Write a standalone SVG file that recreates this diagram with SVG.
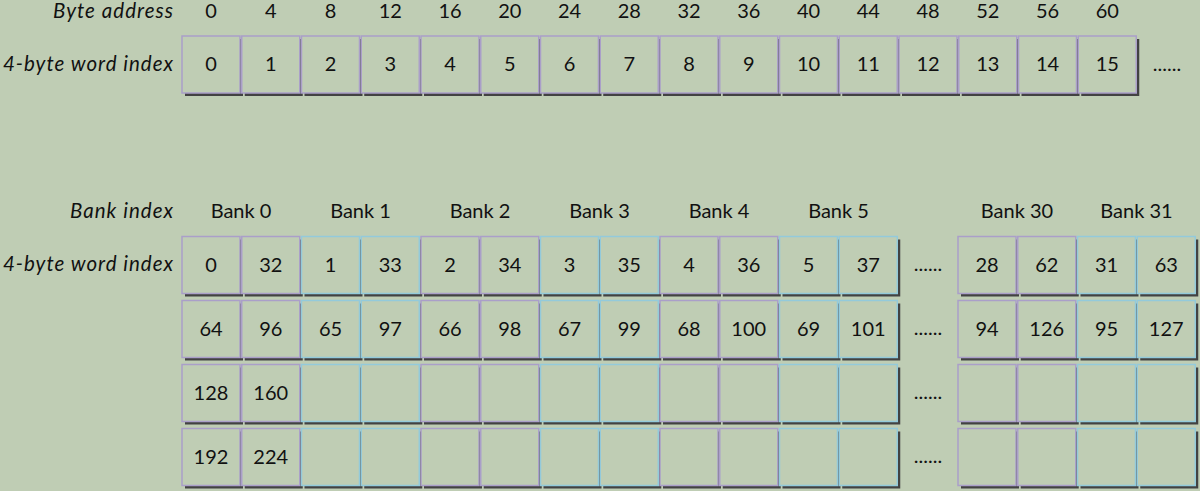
<svg xmlns="http://www.w3.org/2000/svg" width="1200" height="491" viewBox="0 0 1200 491">
<style>
.sh{fill:#424242}
.p{fill:#BFCDB4;stroke:#AA9FC9;stroke-width:1.5}
.b{fill:#BFCDB4;stroke:#93CADB;stroke-width:1.5}
.n{font-family:Lato,"Open Sans",sans-serif;font-size:20px;fill:#111;text-anchor:middle}
.l{font-family:Lato,"Open Sans",sans-serif;font-size:20.5px;font-style:italic;fill:#111;text-anchor:end}
.h{font-family:Lato,"Open Sans",sans-serif;font-size:20px;fill:#111;text-anchor:middle}
</style>
<rect width="1200" height="491" fill="#BFCDB4"/>
<g id="labels">
<text class="l" x="173" y="18" textLength="120" lengthAdjust="spacing">Byte address</text>
<text class="l" x="173" y="71" textLength="170" lengthAdjust="spacing">4-byte word index</text>
<text class="l" x="173" y="218" textLength="103" lengthAdjust="spacing">Bank index</text>
<text class="l" x="173" y="271" textLength="170" lengthAdjust="spacing">4-byte word index</text>
</g>
<g id="byte-addresses">
<text class="h" x="211" y="18">0</text><text class="h" x="270.75" y="18">4</text><text class="h" x="330.5" y="18">8</text><text class="h" x="390.25" y="18">12</text><text class="h" x="450" y="18">16</text><text class="h" x="509.75" y="18">20</text><text class="h" x="569.5" y="18">24</text><text class="h" x="629.25" y="18">28</text><text class="h" x="689" y="18">32</text><text class="h" x="748.75" y="18">36</text><text class="h" x="808.5" y="18">40</text><text class="h" x="868.25" y="18">44</text><text class="h" x="928" y="18">48</text><text class="h" x="987.75" y="18">52</text><text class="h" x="1047.5" y="18">56</text><text class="h" x="1107.25" y="18">60</text>
</g>
<g id="bank-labels">
<text class="h" x="241" y="218">Bank 0</text><text class="h" x="360.5" y="218">Bank 1</text><text class="h" x="480" y="218">Bank 2</text><text class="h" x="599.5" y="218">Bank 3</text><text class="h" x="719" y="218">Bank 4</text><text class="h" x="838.5" y="218">Bank 5</text><text class="h" x="1017" y="218">Bank 30</text><text class="h" x="1136.5" y="218">Bank 31</text>
</g>
<g id="ellipses">
<text class="h" x="1167" y="71">......</text>
<text class="h" x="928" y="271">......</text>
<text class="h" x="928" y="335">......</text>
<text class="h" x="928" y="399">......</text>
<text class="h" x="928" y="463">......</text>
</g>
<g id="linear-words">
<g id="w0" transform="translate(182,36)"><rect class="sh" x="3" y="3" width="58" height="57"/><rect class="p" width="58" height="57"/><text class="n" x="29" y="35">0</text></g>
<g id="w1" transform="translate(241.75,36)"><rect class="sh" x="3" y="3" width="58" height="57"/><rect class="p" width="58" height="57"/><text class="n" x="29" y="35">1</text></g>
<g id="w2" transform="translate(301.5,36)"><rect class="sh" x="3" y="3" width="58" height="57"/><rect class="p" width="58" height="57"/><text class="n" x="29" y="35">2</text></g>
<g id="w3" transform="translate(361.25,36)"><rect class="sh" x="3" y="3" width="58" height="57"/><rect class="p" width="58" height="57"/><text class="n" x="29" y="35">3</text></g>
<g id="w4" transform="translate(421,36)"><rect class="sh" x="3" y="3" width="58" height="57"/><rect class="p" width="58" height="57"/><text class="n" x="29" y="35">4</text></g>
<g id="w5" transform="translate(480.75,36)"><rect class="sh" x="3" y="3" width="58" height="57"/><rect class="p" width="58" height="57"/><text class="n" x="29" y="35">5</text></g>
<g id="w6" transform="translate(540.5,36)"><rect class="sh" x="3" y="3" width="58" height="57"/><rect class="p" width="58" height="57"/><text class="n" x="29" y="35">6</text></g>
<g id="w7" transform="translate(600.25,36)"><rect class="sh" x="3" y="3" width="58" height="57"/><rect class="p" width="58" height="57"/><text class="n" x="29" y="35">7</text></g>
<g id="w8" transform="translate(660,36)"><rect class="sh" x="3" y="3" width="58" height="57"/><rect class="p" width="58" height="57"/><text class="n" x="29" y="35">8</text></g>
<g id="w9" transform="translate(719.75,36)"><rect class="sh" x="3" y="3" width="58" height="57"/><rect class="p" width="58" height="57"/><text class="n" x="29" y="35">9</text></g>
<g id="w10" transform="translate(779.5,36)"><rect class="sh" x="3" y="3" width="58" height="57"/><rect class="p" width="58" height="57"/><text class="n" x="29" y="35">10</text></g>
<g id="w11" transform="translate(839.25,36)"><rect class="sh" x="3" y="3" width="58" height="57"/><rect class="p" width="58" height="57"/><text class="n" x="29" y="35">11</text></g>
<g id="w12" transform="translate(899,36)"><rect class="sh" x="3" y="3" width="58" height="57"/><rect class="p" width="58" height="57"/><text class="n" x="29" y="35">12</text></g>
<g id="w13" transform="translate(958.75,36)"><rect class="sh" x="3" y="3" width="58" height="57"/><rect class="p" width="58" height="57"/><text class="n" x="29" y="35">13</text></g>
<g id="w14" transform="translate(1018.5,36)"><rect class="sh" x="3" y="3" width="58" height="57"/><rect class="p" width="58" height="57"/><text class="n" x="29" y="35">14</text></g>
<g id="w15" transform="translate(1078.25,36)"><rect class="sh" x="3" y="3" width="58" height="57"/><rect class="p" width="58" height="57"/><text class="n" x="29" y="35">15</text></g>
</g>
<g id="banked-words">
<g id="r0c0" transform="translate(182,236.5)"><rect class="sh" x="3" y="3" width="58" height="57"/><rect class="p" width="58" height="57"/><text class="n" x="29" y="35">0</text></g>
<g id="r0c1" transform="translate(241.75,236.5)"><rect class="sh" x="3" y="3" width="58" height="57"/><rect class="p" width="58" height="57"/><text class="n" x="29" y="35">32</text></g>
<g id="r0c2" transform="translate(301.5,236.5)"><rect class="sh" x="3" y="3" width="58" height="57"/><rect class="b" width="58" height="57"/><text class="n" x="29" y="35">1</text></g>
<g id="r0c3" transform="translate(361.25,236.5)"><rect class="sh" x="3" y="3" width="58" height="57"/><rect class="b" width="58" height="57"/><text class="n" x="29" y="35">33</text></g>
<g id="r0c4" transform="translate(421,236.5)"><rect class="sh" x="3" y="3" width="58" height="57"/><rect class="p" width="58" height="57"/><text class="n" x="29" y="35">2</text></g>
<g id="r0c5" transform="translate(480.75,236.5)"><rect class="sh" x="3" y="3" width="58" height="57"/><rect class="p" width="58" height="57"/><text class="n" x="29" y="35">34</text></g>
<g id="r0c6" transform="translate(540.5,236.5)"><rect class="sh" x="3" y="3" width="58" height="57"/><rect class="b" width="58" height="57"/><text class="n" x="29" y="35">3</text></g>
<g id="r0c7" transform="translate(600.25,236.5)"><rect class="sh" x="3" y="3" width="58" height="57"/><rect class="b" width="58" height="57"/><text class="n" x="29" y="35">35</text></g>
<g id="r0c8" transform="translate(660,236.5)"><rect class="sh" x="3" y="3" width="58" height="57"/><rect class="p" width="58" height="57"/><text class="n" x="29" y="35">4</text></g>
<g id="r0c9" transform="translate(719.75,236.5)"><rect class="sh" x="3" y="3" width="58" height="57"/><rect class="p" width="58" height="57"/><text class="n" x="29" y="35">36</text></g>
<g id="r0c10" transform="translate(779.5,236.5)"><rect class="sh" x="3" y="3" width="58" height="57"/><rect class="b" width="58" height="57"/><text class="n" x="29" y="35">5</text></g>
<g id="r0c11" transform="translate(839.25,236.5)"><rect class="sh" x="3" y="3" width="58" height="57"/><rect class="b" width="58" height="57"/><text class="n" x="29" y="35">37</text></g>
<g id="r0c12" transform="translate(958,236.5)"><rect class="sh" x="3" y="3" width="58" height="57"/><rect class="p" width="58" height="57"/><text class="n" x="29" y="35">28</text></g>
<g id="r0c13" transform="translate(1017.75,236.5)"><rect class="sh" x="3" y="3" width="58" height="57"/><rect class="p" width="58" height="57"/><text class="n" x="29" y="35">62</text></g>
<g id="r0c14" transform="translate(1077.5,236.5)"><rect class="sh" x="3" y="3" width="58" height="57"/><rect class="b" width="58" height="57"/><text class="n" x="29" y="35">31</text></g>
<g id="r0c15" transform="translate(1137.25,236.5)"><rect class="sh" x="3" y="3" width="58" height="57"/><rect class="b" width="58" height="57"/><text class="n" x="29" y="35">63</text></g>
<g id="r1c0" transform="translate(182,300.5)"><rect class="sh" x="3" y="3" width="58" height="57"/><rect class="p" width="58" height="57"/><text class="n" x="29" y="35">64</text></g>
<g id="r1c1" transform="translate(241.75,300.5)"><rect class="sh" x="3" y="3" width="58" height="57"/><rect class="p" width="58" height="57"/><text class="n" x="29" y="35">96</text></g>
<g id="r1c2" transform="translate(301.5,300.5)"><rect class="sh" x="3" y="3" width="58" height="57"/><rect class="b" width="58" height="57"/><text class="n" x="29" y="35">65</text></g>
<g id="r1c3" transform="translate(361.25,300.5)"><rect class="sh" x="3" y="3" width="58" height="57"/><rect class="b" width="58" height="57"/><text class="n" x="29" y="35">97</text></g>
<g id="r1c4" transform="translate(421,300.5)"><rect class="sh" x="3" y="3" width="58" height="57"/><rect class="p" width="58" height="57"/><text class="n" x="29" y="35">66</text></g>
<g id="r1c5" transform="translate(480.75,300.5)"><rect class="sh" x="3" y="3" width="58" height="57"/><rect class="p" width="58" height="57"/><text class="n" x="29" y="35">98</text></g>
<g id="r1c6" transform="translate(540.5,300.5)"><rect class="sh" x="3" y="3" width="58" height="57"/><rect class="b" width="58" height="57"/><text class="n" x="29" y="35">67</text></g>
<g id="r1c7" transform="translate(600.25,300.5)"><rect class="sh" x="3" y="3" width="58" height="57"/><rect class="b" width="58" height="57"/><text class="n" x="29" y="35">99</text></g>
<g id="r1c8" transform="translate(660,300.5)"><rect class="sh" x="3" y="3" width="58" height="57"/><rect class="p" width="58" height="57"/><text class="n" x="29" y="35">68</text></g>
<g id="r1c9" transform="translate(719.75,300.5)"><rect class="sh" x="3" y="3" width="58" height="57"/><rect class="p" width="58" height="57"/><text class="n" x="29" y="35">100</text></g>
<g id="r1c10" transform="translate(779.5,300.5)"><rect class="sh" x="3" y="3" width="58" height="57"/><rect class="b" width="58" height="57"/><text class="n" x="29" y="35">69</text></g>
<g id="r1c11" transform="translate(839.25,300.5)"><rect class="sh" x="3" y="3" width="58" height="57"/><rect class="b" width="58" height="57"/><text class="n" x="29" y="35">101</text></g>
<g id="r1c12" transform="translate(958,300.5)"><rect class="sh" x="3" y="3" width="58" height="57"/><rect class="p" width="58" height="57"/><text class="n" x="29" y="35">94</text></g>
<g id="r1c13" transform="translate(1017.75,300.5)"><rect class="sh" x="3" y="3" width="58" height="57"/><rect class="p" width="58" height="57"/><text class="n" x="29" y="35">126</text></g>
<g id="r1c14" transform="translate(1077.5,300.5)"><rect class="sh" x="3" y="3" width="58" height="57"/><rect class="b" width="58" height="57"/><text class="n" x="29" y="35">95</text></g>
<g id="r1c15" transform="translate(1137.25,300.5)"><rect class="sh" x="3" y="3" width="58" height="57"/><rect class="b" width="58" height="57"/><text class="n" x="29" y="35">127</text></g>
<g id="r2c0" transform="translate(182,364.5)"><rect class="sh" x="3" y="3" width="58" height="57"/><rect class="p" width="58" height="57"/><text class="n" x="29" y="35">128</text></g>
<g id="r2c1" transform="translate(241.75,364.5)"><rect class="sh" x="3" y="3" width="58" height="57"/><rect class="p" width="58" height="57"/><text class="n" x="29" y="35">160</text></g>
<g id="r2c2" transform="translate(301.5,364.5)"><rect class="sh" x="3" y="3" width="58" height="57"/><rect class="b" width="58" height="57"/></g>
<g id="r2c3" transform="translate(361.25,364.5)"><rect class="sh" x="3" y="3" width="58" height="57"/><rect class="b" width="58" height="57"/></g>
<g id="r2c4" transform="translate(421,364.5)"><rect class="sh" x="3" y="3" width="58" height="57"/><rect class="p" width="58" height="57"/></g>
<g id="r2c5" transform="translate(480.75,364.5)"><rect class="sh" x="3" y="3" width="58" height="57"/><rect class="p" width="58" height="57"/></g>
<g id="r2c6" transform="translate(540.5,364.5)"><rect class="sh" x="3" y="3" width="58" height="57"/><rect class="b" width="58" height="57"/></g>
<g id="r2c7" transform="translate(600.25,364.5)"><rect class="sh" x="3" y="3" width="58" height="57"/><rect class="b" width="58" height="57"/></g>
<g id="r2c8" transform="translate(660,364.5)"><rect class="sh" x="3" y="3" width="58" height="57"/><rect class="p" width="58" height="57"/></g>
<g id="r2c9" transform="translate(719.75,364.5)"><rect class="sh" x="3" y="3" width="58" height="57"/><rect class="p" width="58" height="57"/></g>
<g id="r2c10" transform="translate(779.5,364.5)"><rect class="sh" x="3" y="3" width="58" height="57"/><rect class="b" width="58" height="57"/></g>
<g id="r2c11" transform="translate(839.25,364.5)"><rect class="sh" x="3" y="3" width="58" height="57"/><rect class="b" width="58" height="57"/></g>
<g id="r2c12" transform="translate(958,364.5)"><rect class="sh" x="3" y="3" width="58" height="57"/><rect class="p" width="58" height="57"/></g>
<g id="r2c13" transform="translate(1017.75,364.5)"><rect class="sh" x="3" y="3" width="58" height="57"/><rect class="p" width="58" height="57"/></g>
<g id="r2c14" transform="translate(1077.5,364.5)"><rect class="sh" x="3" y="3" width="58" height="57"/><rect class="b" width="58" height="57"/></g>
<g id="r2c15" transform="translate(1137.25,364.5)"><rect class="sh" x="3" y="3" width="58" height="57"/><rect class="b" width="58" height="57"/></g>
<g id="r3c0" transform="translate(182,428.5)"><rect class="sh" x="3" y="3" width="58" height="57"/><rect class="p" width="58" height="57"/><text class="n" x="29" y="35">192</text></g>
<g id="r3c1" transform="translate(241.75,428.5)"><rect class="sh" x="3" y="3" width="58" height="57"/><rect class="p" width="58" height="57"/><text class="n" x="29" y="35">224</text></g>
<g id="r3c2" transform="translate(301.5,428.5)"><rect class="sh" x="3" y="3" width="58" height="57"/><rect class="b" width="58" height="57"/></g>
<g id="r3c3" transform="translate(361.25,428.5)"><rect class="sh" x="3" y="3" width="58" height="57"/><rect class="b" width="58" height="57"/></g>
<g id="r3c4" transform="translate(421,428.5)"><rect class="sh" x="3" y="3" width="58" height="57"/><rect class="p" width="58" height="57"/></g>
<g id="r3c5" transform="translate(480.75,428.5)"><rect class="sh" x="3" y="3" width="58" height="57"/><rect class="p" width="58" height="57"/></g>
<g id="r3c6" transform="translate(540.5,428.5)"><rect class="sh" x="3" y="3" width="58" height="57"/><rect class="b" width="58" height="57"/></g>
<g id="r3c7" transform="translate(600.25,428.5)"><rect class="sh" x="3" y="3" width="58" height="57"/><rect class="b" width="58" height="57"/></g>
<g id="r3c8" transform="translate(660,428.5)"><rect class="sh" x="3" y="3" width="58" height="57"/><rect class="p" width="58" height="57"/></g>
<g id="r3c9" transform="translate(719.75,428.5)"><rect class="sh" x="3" y="3" width="58" height="57"/><rect class="p" width="58" height="57"/></g>
<g id="r3c10" transform="translate(779.5,428.5)"><rect class="sh" x="3" y="3" width="58" height="57"/><rect class="b" width="58" height="57"/></g>
<g id="r3c11" transform="translate(839.25,428.5)"><rect class="sh" x="3" y="3" width="58" height="57"/><rect class="b" width="58" height="57"/></g>
<g id="r3c12" transform="translate(958,428.5)"><rect class="sh" x="3" y="3" width="58" height="57"/><rect class="p" width="58" height="57"/></g>
<g id="r3c13" transform="translate(1017.75,428.5)"><rect class="sh" x="3" y="3" width="58" height="57"/><rect class="p" width="58" height="57"/></g>
<g id="r3c14" transform="translate(1077.5,428.5)"><rect class="sh" x="3" y="3" width="58" height="57"/><rect class="b" width="58" height="57"/></g>
<g id="r3c15" transform="translate(1137.25,428.5)"><rect class="sh" x="3" y="3" width="58" height="57"/><rect class="b" width="58" height="57"/></g>
</g>
<g id="connectors"/>
</svg>
